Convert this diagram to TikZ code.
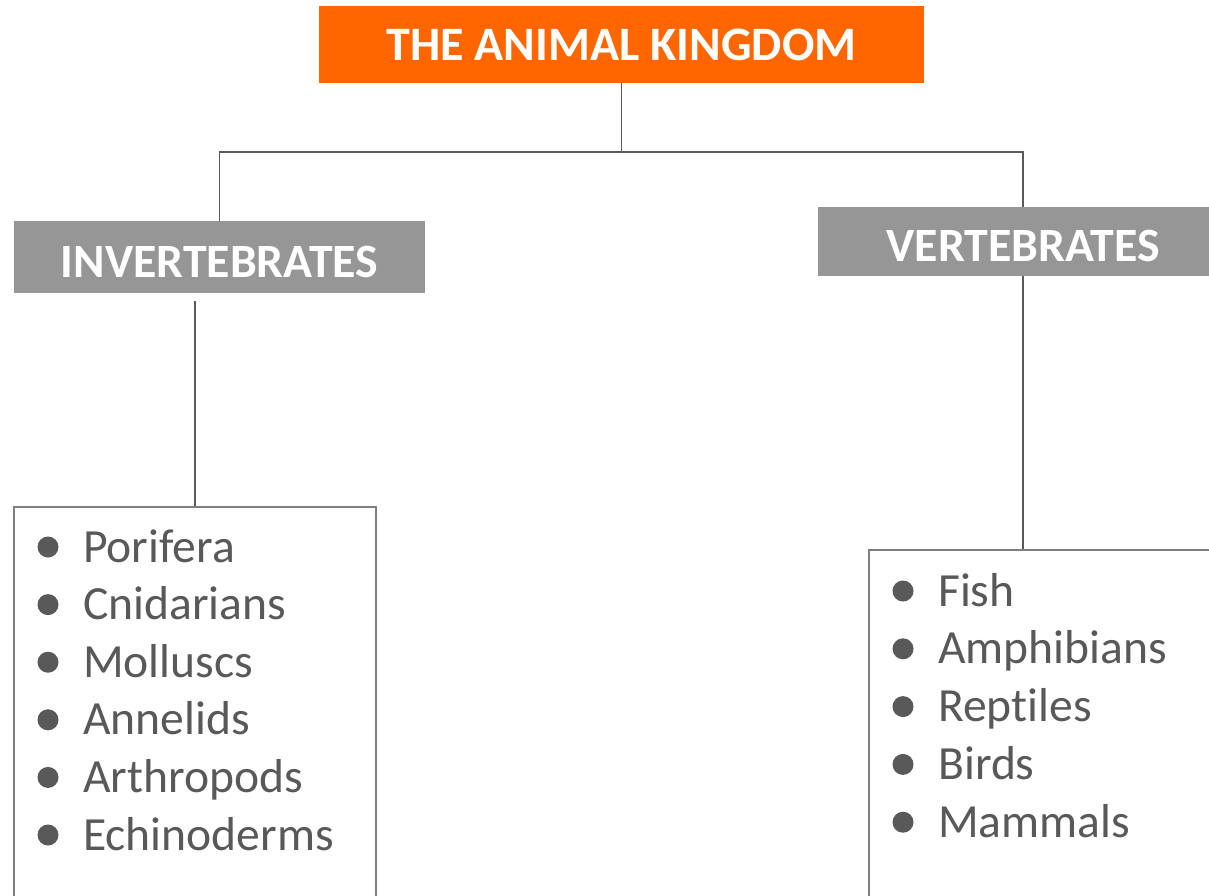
\documentclass[tikz,border=0pt]{standalone}
\usepackage{fontspec}
\setmainfont{Carlito}[Ligatures=CommonOff]
\usetikzlibrary{positioning}
\definecolor{kingdomorange}{HTML}{FF6600}
\definecolor{headgray}{HTML}{969696}
\definecolor{textgray}{HTML}{595959}
\definecolor{linegray}{HTML}{5A5A5A}
\definecolor{framegray}{HTML}{7F7F7F}
\tikzset{
  kingdombox/.style={fill=kingdomorange, text=white, inner sep=0pt,
    font=\fontsize{48}{56}\selectfont\bfseries},
  groupbox/.style={fill=headgray, text=white, inner sep=0pt,
    text height=40pt, text depth=0pt,
    font=\fontsize{47.8}{56}\selectfont\bfseries},
  listbox/.style={draw=framegray, line width=1.5pt, inner sep=0pt},
  item/.style={text=textgray, inner sep=0pt, anchor=base west,
    font=\fontsize{47.6}{56}\selectfont},
  link/.style={draw=linegray, line width=1.6pt}
}

\begin{document}
\begin{tikzpicture}[x=1pt, y=-1pt]
		%%%%% START %%%%%
		\clip (0, 0) rectangle (1209, 896);
		\fill[white] (0, 0) rectangle (1209, 896);

		\node[kingdombox, minimum width=605pt, minimum height=77pt] (kingdom) at (621.5, 44.5) {THE ANIMAL KINGDOM};

		\node[groupbox, minimum width=411pt, minimum height=72pt] (invert) at (219.5, 257) {INVERTEBRATES};
		\node[groupbox, minimum width=410pt, minimum height=69pt] (vert) at (1023, 241.5) {VERTEBRATES};

		\node[listbox, minimum width=362pt, minimum height=410pt] (invlist) at (195, 712) {};
		\node[listbox, minimum width=400pt, minimum height=370pt] (vertlist) at (1069, 735) {};

		% branches
		\coordinate (split) at (621.5, 152);
		\draw[link] (kingdom.south) -- (split);
		\draw[link] (split) -| (invert.north);
		\draw[link] (split) -| (vert.north);
		\draw[link] ([yshift=-8pt]invlist.north |- invert.south) -- (invlist.north);
		\draw[link] (vert.south) -- (vert.south |- vertlist.north);

		% lists
		\foreach \name [count=\i from 0] in {Porifera, Cnidarians, Molluscs, Annelids, Arthropods, Echinoderms} {
			\fill[textgray] (48, 547+57.6*\i) circle (10.5pt);
			\node[item] (inv\i) at (83, 562+57.6*\i) {\name};
		}
		\foreach \name [count=\i from 0] in {Fish, Amphibians, Reptiles, Birds, Mammals} {
			\fill[textgray] (903, 591+57.8*\i) circle (10.5pt);
			\node[item] (vert\i) at (938, 606+57.8*\i) {\name};
		}
		%%%%% END %%%%%
\end{tikzpicture}
\end{document}
